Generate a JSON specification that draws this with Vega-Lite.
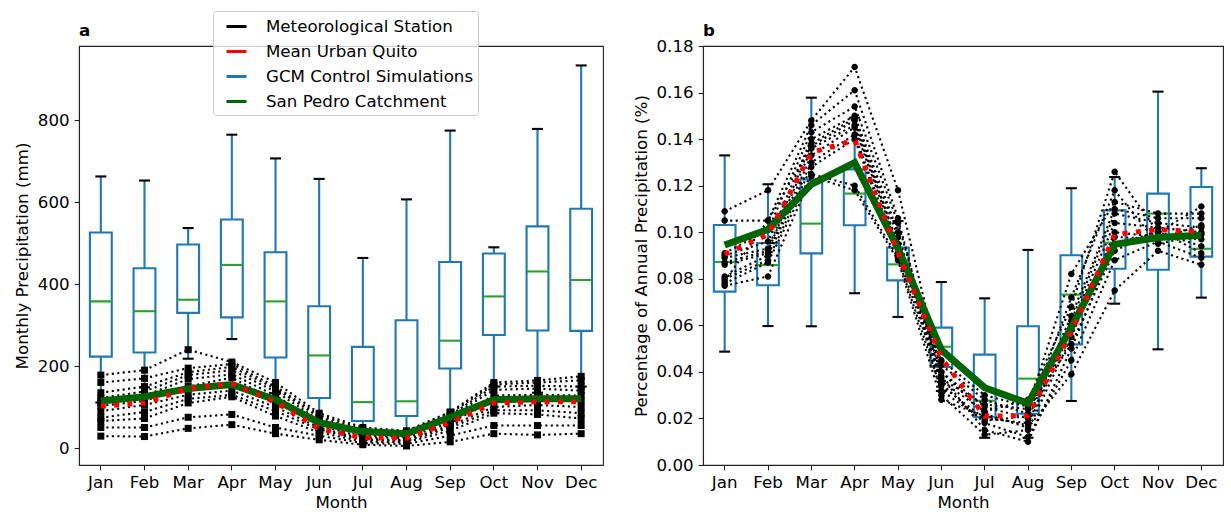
{
  "$schema": "https://vega.github.io/schema/vega-lite/v6.json",
  "padding": {"left": 13, "top": 9, "right": 6, "bottom": 0},
  "spacing": 28,
  "datasets": {
    "boxA": [
      {"month": "Jan", "lo": 111, "q1": 223, "med": 358, "q3": 526, "hi": 663},
      {"month": "Feb", "lo": 148, "q1": 233, "med": 334, "q3": 439, "hi": 653},
      {"month": "Mar", "lo": 218, "q1": 330, "med": 362, "q3": 497, "hi": 537},
      {"month": "Apr", "lo": 266, "q1": 319, "med": 447, "q3": 558, "hi": 765},
      {"month": "May", "lo": 134, "q1": 221, "med": 358, "q3": 478, "hi": 707},
      {"month": "Jun", "lo": 58, "q1": 122, "med": 226, "q3": 346, "hi": 657},
      {"month": "Jul", "lo": 45, "q1": 66, "med": 112, "q3": 247, "hi": 464},
      {"month": "Aug", "lo": 34, "q1": 78, "med": 114, "q3": 312, "hi": 607},
      {"month": "Sep", "lo": 66, "q1": 194, "med": 262, "q3": 454, "hi": 775},
      {"month": "Oct", "lo": 150, "q1": 276, "med": 370, "q3": 475, "hi": 490},
      {"month": "Nov", "lo": 135, "q1": 287, "med": 431, "q3": 541, "hi": 779},
      {"month": "Dec", "lo": 150, "q1": 286, "med": 410, "q3": 584, "hi": 934}
    ],
    "urbanA": [
      {"month": "Jan", "value": 102}, {"month": "Feb", "value": 110}, {"month": "Mar", "value": 145},
      {"month": "Apr", "value": 157}, {"month": "May", "value": 112}, {"month": "Jun", "value": 47},
      {"month": "Jul", "value": 25}, {"month": "Aug", "value": 24}, {"month": "Sep", "value": 62},
      {"month": "Oct", "value": 110}, {"month": "Nov", "value": 113}, {"month": "Dec", "value": 113}
    ],
    "catchA": [
      {"month": "Jan", "value": 115}, {"month": "Feb", "value": 125}, {"month": "Mar", "value": 145},
      {"month": "Apr", "value": 155}, {"month": "May", "value": 118}, {"month": "Jun", "value": 62},
      {"month": "Jul", "value": 40}, {"month": "Aug", "value": 35}, {"month": "Sep", "value": 75},
      {"month": "Oct", "value": 118}, {"month": "Nov", "value": 120}, {"month": "Dec", "value": 120}
    ],
    "stationsA": [
      {"station": "S1", "month": "Jan", "value": 178}, {"station": "S1", "month": "Feb", "value": 190}, {"station": "S1", "month": "Mar", "value": 240}, {"station": "S1", "month": "Apr", "value": 210}, {"station": "S1", "month": "May", "value": 160}, {"station": "S1", "month": "Jun", "value": 85}, {"station": "S1", "month": "Jul", "value": 50}, {"station": "S1", "month": "Aug", "value": 42}, {"station": "S1", "month": "Sep", "value": 88}, {"station": "S1", "month": "Oct", "value": 160}, {"station": "S1", "month": "Nov", "value": 165}, {"station": "S1", "month": "Dec", "value": 175},
      {"station": "S2", "month": "Jan", "value": 160}, {"station": "S2", "month": "Feb", "value": 170}, {"station": "S2", "month": "Mar", "value": 195}, {"station": "S2", "month": "Apr", "value": 205}, {"station": "S2", "month": "May", "value": 150}, {"station": "S2", "month": "Jun", "value": 80}, {"station": "S2", "month": "Jul", "value": 45}, {"station": "S2", "month": "Aug", "value": 40}, {"station": "S2", "month": "Sep", "value": 85}, {"station": "S2", "month": "Oct", "value": 155}, {"station": "S2", "month": "Nov", "value": 160}, {"station": "S2", "month": "Dec", "value": 165},
      {"station": "S3", "month": "Jan", "value": 135}, {"station": "S3", "month": "Feb", "value": 150}, {"station": "S3", "month": "Mar", "value": 185}, {"station": "S3", "month": "Apr", "value": 198}, {"station": "S3", "month": "May", "value": 145}, {"station": "S3", "month": "Jun", "value": 75}, {"station": "S3", "month": "Jul", "value": 40}, {"station": "S3", "month": "Aug", "value": 35}, {"station": "S3", "month": "Sep", "value": 80}, {"station": "S3", "month": "Oct", "value": 150}, {"station": "S3", "month": "Nov", "value": 152}, {"station": "S3", "month": "Dec", "value": 150},
      {"station": "S4", "month": "Jan", "value": 122}, {"station": "S4", "month": "Feb", "value": 138}, {"station": "S4", "month": "Mar", "value": 178}, {"station": "S4", "month": "Apr", "value": 190}, {"station": "S4", "month": "May", "value": 138}, {"station": "S4", "month": "Jun", "value": 68}, {"station": "S4", "month": "Jul", "value": 36}, {"station": "S4", "month": "Aug", "value": 32}, {"station": "S4", "month": "Sep", "value": 76}, {"station": "S4", "month": "Oct", "value": 142}, {"station": "S4", "month": "Nov", "value": 145}, {"station": "S4", "month": "Dec", "value": 140},
      {"station": "S5", "month": "Jan", "value": 112}, {"station": "S5", "month": "Feb", "value": 128}, {"station": "S5", "month": "Mar", "value": 168}, {"station": "S5", "month": "Apr", "value": 180}, {"station": "S5", "month": "May", "value": 128}, {"station": "S5", "month": "Jun", "value": 62}, {"station": "S5", "month": "Jul", "value": 30}, {"station": "S5", "month": "Aug", "value": 28}, {"station": "S5", "month": "Sep", "value": 70}, {"station": "S5", "month": "Oct", "value": 128}, {"station": "S5", "month": "Nov", "value": 130}, {"station": "S5", "month": "Dec", "value": 128},
      {"station": "S6", "month": "Jan", "value": 103}, {"station": "S6", "month": "Feb", "value": 115}, {"station": "S6", "month": "Mar", "value": 150}, {"station": "S6", "month": "Apr", "value": 172}, {"station": "S6", "month": "May", "value": 115}, {"station": "S6", "month": "Jun", "value": 56}, {"station": "S6", "month": "Jul", "value": 26}, {"station": "S6", "month": "Aug", "value": 25}, {"station": "S6", "month": "Sep", "value": 62}, {"station": "S6", "month": "Oct", "value": 115}, {"station": "S6", "month": "Nov", "value": 120}, {"station": "S6", "month": "Dec", "value": 115},
      {"station": "S7", "month": "Jan", "value": 90}, {"station": "S7", "month": "Feb", "value": 105}, {"station": "S7", "month": "Mar", "value": 130}, {"station": "S7", "month": "Apr", "value": 140}, {"station": "S7", "month": "May", "value": 100}, {"station": "S7", "month": "Jun", "value": 50}, {"station": "S7", "month": "Jul", "value": 22}, {"station": "S7", "month": "Aug", "value": 20}, {"station": "S7", "month": "Sep", "value": 55}, {"station": "S7", "month": "Oct", "value": 100}, {"station": "S7", "month": "Nov", "value": 105}, {"station": "S7", "month": "Dec", "value": 100},
      {"station": "S8", "month": "Jan", "value": 74}, {"station": "S8", "month": "Feb", "value": 88}, {"station": "S8", "month": "Mar", "value": 120}, {"station": "S8", "month": "Apr", "value": 130}, {"station": "S8", "month": "May", "value": 90}, {"station": "S8", "month": "Jun", "value": 45}, {"station": "S8", "month": "Jul", "value": 20}, {"station": "S8", "month": "Aug", "value": 17}, {"station": "S8", "month": "Sep", "value": 50}, {"station": "S8", "month": "Oct", "value": 92}, {"station": "S8", "month": "Nov", "value": 92}, {"station": "S8", "month": "Dec", "value": 85},
      {"station": "S9", "month": "Jan", "value": 66}, {"station": "S9", "month": "Feb", "value": 72}, {"station": "S9", "month": "Mar", "value": 110}, {"station": "S9", "month": "Apr", "value": 125}, {"station": "S9", "month": "May", "value": 78}, {"station": "S9", "month": "Jun", "value": 38}, {"station": "S9", "month": "Jul", "value": 16}, {"station": "S9", "month": "Aug", "value": 14}, {"station": "S9", "month": "Sep", "value": 42}, {"station": "S9", "month": "Oct", "value": 85}, {"station": "S9", "month": "Nov", "value": 82}, {"station": "S9", "month": "Dec", "value": 72},
      {"station": "S10", "month": "Jan", "value": 50}, {"station": "S10", "month": "Feb", "value": 50}, {"station": "S10", "month": "Mar", "value": 75}, {"station": "S10", "month": "Apr", "value": 82}, {"station": "S10", "month": "May", "value": 50}, {"station": "S10", "month": "Jun", "value": 30}, {"station": "S10", "month": "Jul", "value": 12}, {"station": "S10", "month": "Aug", "value": 10}, {"station": "S10", "month": "Sep", "value": 30}, {"station": "S10", "month": "Oct", "value": 55}, {"station": "S10", "month": "Nov", "value": 55}, {"station": "S10", "month": "Dec", "value": 55},
      {"station": "S11", "month": "Jan", "value": 29}, {"station": "S11", "month": "Feb", "value": 28}, {"station": "S11", "month": "Mar", "value": 48}, {"station": "S11", "month": "Apr", "value": 57}, {"station": "S11", "month": "May", "value": 35}, {"station": "S11", "month": "Jun", "value": 20}, {"station": "S11", "month": "Jul", "value": 8}, {"station": "S11", "month": "Aug", "value": 5}, {"station": "S11", "month": "Sep", "value": 15}, {"station": "S11", "month": "Oct", "value": 35}, {"station": "S11", "month": "Nov", "value": 32}, {"station": "S11", "month": "Dec", "value": 35}
    ],
    "boxB": [
      {"month": "Jan", "lo": 0.0487, "q1": 0.0745, "med": 0.0872, "q3": 0.1031, "hi": 0.1330},
      {"month": "Feb", "lo": 0.0597, "q1": 0.0772, "med": 0.0859, "q3": 0.0954, "hi": 0.1206},
      {"month": "Mar", "lo": 0.0596, "q1": 0.0909, "med": 0.1037, "q3": 0.1227, "hi": 0.1578},
      {"month": "Apr", "lo": 0.0738, "q1": 0.1030, "med": 0.1166, "q3": 0.1270, "hi": 0.1492},
      {"month": "May", "lo": 0.0636, "q1": 0.0793, "med": 0.0862, "q3": 0.0934, "hi": 0.1048},
      {"month": "Jun", "lo": 0.0318, "q1": 0.0421, "med": 0.0508, "q3": 0.0590, "hi": 0.0786},
      {"month": "Jul", "lo": 0.0117, "q1": 0.0206, "med": 0.0276, "q3": 0.0474, "hi": 0.0716},
      {"month": "Aug", "lo": 0.0117, "q1": 0.0220, "med": 0.0371, "q3": 0.0596, "hi": 0.0924},
      {"month": "Sep", "lo": 0.0275, "q1": 0.0518, "med": 0.0732, "q3": 0.0901, "hi": 0.1189},
      {"month": "Oct", "lo": 0.0693, "q1": 0.0843, "med": 0.0955, "q3": 0.1094, "hi": 0.1237},
      {"month": "Nov", "lo": 0.0497, "q1": 0.0839, "med": 0.1080, "q3": 0.1166, "hi": 0.1604},
      {"month": "Dec", "lo": 0.0719, "q1": 0.0895, "med": 0.0929, "q3": 0.1194, "hi": 0.1275}
    ],
    "urbanB": [
      {"month": "Jan", "value": 0.0905}, {"month": "Feb", "value": 0.0990}, {"month": "Mar", "value": 0.1342},
      {"month": "Apr", "value": 0.1396}, {"month": "May", "value": 0.0910}, {"month": "Jun", "value": 0.0460},
      {"month": "Jul", "value": 0.0210}, {"month": "Aug", "value": 0.0212}, {"month": "Sep", "value": 0.0570},
      {"month": "Oct", "value": 0.0990}, {"month": "Nov", "value": 0.1012}, {"month": "Dec", "value": 0.1002}
    ],
    "catchB": [
      {"month": "Jan", "value": 0.0945}, {"month": "Feb", "value": 0.1012}, {"month": "Mar", "value": 0.1206},
      {"month": "Apr", "value": 0.1299}, {"month": "May", "value": 0.0930}, {"month": "Jun", "value": 0.0495},
      {"month": "Jul", "value": 0.0332}, {"month": "Aug", "value": 0.0265}, {"month": "Sep", "value": 0.0590},
      {"month": "Oct", "value": 0.0948}, {"month": "Nov", "value": 0.0977}, {"month": "Dec", "value": 0.0987}
    ],
    "stationsB": [
      {"station": "S1", "month": "Jan", "value": 0.109}, {"station": "S1", "month": "Feb", "value": 0.118}, {"station": "S1", "month": "Mar", "value": 0.148}, {"station": "S1", "month": "Apr", "value": 0.171}, {"station": "S1", "month": "May", "value": 0.118}, {"station": "S1", "month": "Jun", "value": 0.040}, {"station": "S1", "month": "Jul", "value": 0.022}, {"station": "S1", "month": "Aug", "value": 0.016}, {"station": "S1", "month": "Sep", "value": 0.039}, {"station": "S1", "month": "Oct", "value": 0.075}, {"station": "S1", "month": "Nov", "value": 0.092}, {"station": "S1", "month": "Dec", "value": 0.086},
      {"station": "S2", "month": "Jan", "value": 0.105}, {"station": "S2", "month": "Feb", "value": 0.105}, {"station": "S2", "month": "Mar", "value": 0.146}, {"station": "S2", "month": "Apr", "value": 0.161}, {"station": "S2", "month": "May", "value": 0.106}, {"station": "S2", "month": "Jun", "value": 0.035}, {"station": "S2", "month": "Jul", "value": 0.018}, {"station": "S2", "month": "Aug", "value": 0.012}, {"station": "S2", "month": "Sep", "value": 0.045}, {"station": "S2", "month": "Oct", "value": 0.088}, {"station": "S2", "month": "Nov", "value": 0.096}, {"station": "S2", "month": "Dec", "value": 0.089},
      {"station": "S3", "month": "Jan", "value": 0.091}, {"station": "S3", "month": "Feb", "value": 0.101}, {"station": "S3", "month": "Mar", "value": 0.143}, {"station": "S3", "month": "Apr", "value": 0.154}, {"station": "S3", "month": "May", "value": 0.104}, {"station": "S3", "month": "Jun", "value": 0.038}, {"station": "S3", "month": "Jul", "value": 0.015}, {"station": "S3", "month": "Aug", "value": 0.010}, {"station": "S3", "month": "Sep", "value": 0.050}, {"station": "S3", "month": "Oct", "value": 0.095}, {"station": "S3", "month": "Nov", "value": 0.100}, {"station": "S3", "month": "Dec", "value": 0.094},
      {"station": "S4", "month": "Jan", "value": 0.090}, {"station": "S4", "month": "Feb", "value": 0.096}, {"station": "S4", "month": "Mar", "value": 0.140}, {"station": "S4", "month": "Apr", "value": 0.150}, {"station": "S4", "month": "May", "value": 0.100}, {"station": "S4", "month": "Jun", "value": 0.030}, {"station": "S4", "month": "Jul", "value": 0.013}, {"station": "S4", "month": "Aug", "value": 0.015}, {"station": "S4", "month": "Sep", "value": 0.055}, {"station": "S4", "month": "Oct", "value": 0.100}, {"station": "S4", "month": "Nov", "value": 0.098}, {"station": "S4", "month": "Dec", "value": 0.097},
      {"station": "S5", "month": "Jan", "value": 0.089}, {"station": "S5", "month": "Feb", "value": 0.093}, {"station": "S5", "month": "Mar", "value": 0.138}, {"station": "S5", "month": "Apr", "value": 0.149}, {"station": "S5", "month": "May", "value": 0.098}, {"station": "S5", "month": "Jun", "value": 0.034}, {"station": "S5", "month": "Jul", "value": 0.020}, {"station": "S5", "month": "Aug", "value": 0.018}, {"station": "S5", "month": "Sep", "value": 0.060}, {"station": "S5", "month": "Oct", "value": 0.104}, {"station": "S5", "month": "Nov", "value": 0.102}, {"station": "S5", "month": "Dec", "value": 0.100},
      {"station": "S6", "month": "Jan", "value": 0.087}, {"station": "S6", "month": "Feb", "value": 0.092}, {"station": "S6", "month": "Mar", "value": 0.136}, {"station": "S6", "month": "Apr", "value": 0.146}, {"station": "S6", "month": "May", "value": 0.095}, {"station": "S6", "month": "Jun", "value": 0.040}, {"station": "S6", "month": "Jul", "value": 0.025}, {"station": "S6", "month": "Aug", "value": 0.020}, {"station": "S6", "month": "Sep", "value": 0.062}, {"station": "S6", "month": "Oct", "value": 0.108}, {"station": "S6", "month": "Nov", "value": 0.104}, {"station": "S6", "month": "Dec", "value": 0.102},
      {"station": "S7", "month": "Jan", "value": 0.086}, {"station": "S7", "month": "Feb", "value": 0.091}, {"station": "S7", "month": "Mar", "value": 0.133}, {"station": "S7", "month": "Apr", "value": 0.145}, {"station": "S7", "month": "May", "value": 0.093}, {"station": "S7", "month": "Jun", "value": 0.043}, {"station": "S7", "month": "Jul", "value": 0.028}, {"station": "S7", "month": "Aug", "value": 0.022}, {"station": "S7", "month": "Sep", "value": 0.064}, {"station": "S7", "month": "Oct", "value": 0.110}, {"station": "S7", "month": "Nov", "value": 0.106}, {"station": "S7", "month": "Dec", "value": 0.106},
      {"station": "S8", "month": "Jan", "value": 0.081}, {"station": "S8", "month": "Feb", "value": 0.090}, {"station": "S8", "month": "Mar", "value": 0.130}, {"station": "S8", "month": "Apr", "value": 0.142}, {"station": "S8", "month": "May", "value": 0.091}, {"station": "S8", "month": "Jun", "value": 0.045}, {"station": "S8", "month": "Jul", "value": 0.030}, {"station": "S8", "month": "Aug", "value": 0.025}, {"station": "S8", "month": "Sep", "value": 0.082}, {"station": "S8", "month": "Oct", "value": 0.113}, {"station": "S8", "month": "Nov", "value": 0.108}, {"station": "S8", "month": "Dec", "value": 0.108},
      {"station": "S9", "month": "Jan", "value": 0.080}, {"station": "S9", "month": "Feb", "value": 0.088}, {"station": "S9", "month": "Mar", "value": 0.128}, {"station": "S9", "month": "Apr", "value": 0.140}, {"station": "S9", "month": "May", "value": 0.090}, {"station": "S9", "month": "Jun", "value": 0.036}, {"station": "S9", "month": "Jul", "value": 0.023}, {"station": "S9", "month": "Aug", "value": 0.028}, {"station": "S9", "month": "Sep", "value": 0.068}, {"station": "S9", "month": "Oct", "value": 0.126}, {"station": "S9", "month": "Nov", "value": 0.100}, {"station": "S9", "month": "Dec", "value": 0.111},
      {"station": "S10", "month": "Jan", "value": 0.078}, {"station": "S10", "month": "Feb", "value": 0.087}, {"station": "S10", "month": "Mar", "value": 0.125}, {"station": "S10", "month": "Apr", "value": 0.120}, {"station": "S10", "month": "May", "value": 0.089}, {"station": "S10", "month": "Jun", "value": 0.032}, {"station": "S10", "month": "Jul", "value": 0.019}, {"station": "S10", "month": "Aug", "value": 0.021}, {"station": "S10", "month": "Sep", "value": 0.072}, {"station": "S10", "month": "Oct", "value": 0.118}, {"station": "S10", "month": "Nov", "value": 0.095}, {"station": "S10", "month": "Dec", "value": 0.099},
      {"station": "S11", "month": "Jan", "value": 0.077}, {"station": "S11", "month": "Feb", "value": 0.081}, {"station": "S11", "month": "Mar", "value": 0.124}, {"station": "S11", "month": "Apr", "value": 0.118}, {"station": "S11", "month": "May", "value": 0.088}, {"station": "S11", "month": "Jun", "value": 0.028}, {"station": "S11", "month": "Jul", "value": 0.021}, {"station": "S11", "month": "Aug", "value": 0.017}, {"station": "S11", "month": "Sep", "value": 0.058}, {"station": "S11", "month": "Oct", "value": 0.098}, {"station": "S11", "month": "Nov", "value": 0.097}, {"station": "S11", "month": "Dec", "value": 0.103},
      {"station": "S12", "month": "Jan", "value": 0.079}, {"station": "S12", "month": "Feb", "value": 0.105}, {"station": "S12", "month": "Mar", "value": 0.137}, {"station": "S12", "month": "Apr", "value": 0.148}, {"station": "S12", "month": "May", "value": 0.094}, {"station": "S12", "month": "Jun", "value": 0.037}, {"station": "S12", "month": "Jul", "value": 0.026}, {"station": "S12", "month": "Aug", "value": 0.024}, {"station": "S12", "month": "Sep", "value": 0.052}, {"station": "S12", "month": "Oct", "value": 0.092}, {"station": "S12", "month": "Nov", "value": 0.101}, {"station": "S12", "month": "Dec", "value": 0.091}
    ]
  },
  "hconcat": [
    {
      "width": 524,
      "height": 419,
      "title": {"text": "a", "anchor": "start", "frame": "group", "fontSize": 16.67, "fontWeight": "bold", "offset": -29},
      "encoding": {
        "x": {"field": "month", "type": "ordinal", "sort": ["Jan","Feb","Mar","Apr","May","Jun","Jul","Aug","Sep","Oct","Nov","Dec"], "scale": {"type": "band", "paddingInner": 0, "paddingOuter": 0}, "title": "Month"}
      },
      "layer": [
        {
          "data": {"name": "boxA"},
          "mark": {"type": "rule", "color": "#1f77b4", "strokeWidth": 2.1},
          "encoding": {
            "y": {"field": "lo", "type": "quantitative", "scale": {"domain": [-41.5, 981.5], "nice": false, "zero": false}, "axis": {"values": [0, 200, 400, 600, 800]}, "title": "Monthly Precipitation (mm)"},
            "y2": {"field": "q1"}
          }
        },
        {
          "data": {"name": "boxA"},
          "mark": {"type": "rule", "color": "#1f77b4", "strokeWidth": 2.1},
          "encoding": {
            "y": {"field": "q3", "type": "quantitative", "scale": {"domain": [-41.5, 981.5], "nice": false, "zero": false}, "axis": {"values": [0, 200, 400, 600, 800]}, "title": "Monthly Precipitation (mm)"},
            "y2": {"field": "hi"}
          }
        },
        {
          "data": {"name": "boxA"},
          "mark": {"type": "bar", "fill": "transparent", "stroke": "#1f77b4", "strokeWidth": 2.1, "width": {"band": 0.5}},
          "encoding": {
            "y": {"field": "q1", "type": "quantitative", "scale": {"domain": [-41.5, 981.5], "nice": false, "zero": false}, "axis": {"values": [0, 200, 400, 600, 800]}, "title": "Monthly Precipitation (mm)"},
            "y2": {"field": "q3"}
          }
        },
        {
          "data": {"name": "boxA"},
          "mark": {"type": "tick", "color": "black", "size": 11, "thickness": 2.1, "opacity": 1},
          "encoding": {
            "y": {"field": "lo", "type": "quantitative", "scale": {"domain": [-41.5, 981.5], "nice": false, "zero": false}, "axis": {"values": [0, 200, 400, 600, 800]}, "title": "Monthly Precipitation (mm)"}
          }
        },
        {
          "data": {"name": "boxA"},
          "mark": {"type": "tick", "color": "black", "size": 11, "thickness": 2.1, "opacity": 1},
          "encoding": {
            "y": {"field": "hi", "type": "quantitative", "scale": {"domain": [-41.5, 981.5], "nice": false, "zero": false}, "axis": {"values": [0, 200, 400, 600, 800]}, "title": "Monthly Precipitation (mm)"}
          }
        },
        {
          "data": {"name": "boxA"},
          "mark": {"type": "tick", "color": "#2ca02c", "size": 22, "thickness": 2.1, "opacity": 1},
          "encoding": {
            "y": {"field": "med", "type": "quantitative", "scale": {"domain": [-41.5, 981.5], "nice": false, "zero": false}, "axis": {"values": [0, 200, 400, 600, 800]}, "title": "Monthly Precipitation (mm)"}
          }
        },
        {
          "data": {"name": "stationsA"},
          "mark": {"type": "line", "strokeWidth": 2.1, "strokeDash": [2.1, 3.4]},
          "encoding": {
            "y": {"field": "value", "type": "quantitative", "scale": {"domain": [-41.5, 981.5], "nice": false, "zero": false}, "axis": {"values": [0, 200, 400, 600, 800]}, "title": "Monthly Precipitation (mm)"},
            "detail": {"field": "station"},
            "stroke": {
              "datum": "Meteorological Station",
              "type": "nominal",
              "scale": {"domain": ["Meteorological Station", "Mean Urban Quito", "GCM Control Simulations", "San Pedro Catchment"], "range": ["black", "red", "#1f77b4", "#006400"]},
              "legend": {
                "title": null,
                "orient": "none",
                "legendX": 134,
                "legendY": -35,
                "padding": 4,
                "rowPadding": 4,
                "symbolOffset": 8,
                "labelOffset": 18,
                "fillColor": "rgba(255,255,255,0.8)",
                "strokeColor": "#cccccc",
                "cornerRadius": 3,
                "labelFont": "DejaVu Sans",
                "labelFontSize": 16.67,
                "labelColor": "black",
                "labelLimit": 400,
                "symbolSize": 400,
                "symbolStrokeWidth": 3
              }
            }
          }
        },
        {
          "data": {"name": "stationsA"},
          "mark": {"type": "tick", "color": "black", "size": 7, "thickness": 7, "opacity": 1},
          "encoding": {
            "y": {"field": "value", "type": "quantitative", "scale": {"domain": [-41.5, 981.5], "nice": false, "zero": false}, "axis": {"values": [0, 200, 400, 600, 800]}, "title": "Monthly Precipitation (mm)"}
          }
        },
        {
          "data": {"name": "catchA"},
          "mark": {"type": "line", "color": "#006400", "strokeWidth": 7},
          "encoding": {
            "y": {"field": "value", "type": "quantitative", "scale": {"domain": [-41.5, 981.5], "nice": false, "zero": false}, "axis": {"values": [0, 200, 400, 600, 800]}, "title": "Monthly Precipitation (mm)"}
          }
        },
        {
          "data": {"name": "urbanA"},
          "mark": {"type": "line", "color": "red", "strokeWidth": 5, "strokeDash": [5, 8.3]},
          "encoding": {
            "y": {"field": "value", "type": "quantitative", "scale": {"domain": [-41.5, 981.5], "nice": false, "zero": false}, "axis": {"values": [0, 200, 400, 600, 800]}, "title": "Monthly Precipitation (mm)"}
          }
        }
      ]
    },
    {
      "width": 520,
      "height": 419,
      "title": {"text": "b", "anchor": "start", "frame": "group", "fontSize": 16.67, "fontWeight": "bold", "offset": -2},
      "encoding": {
        "x": {"field": "month", "type": "ordinal", "sort": ["Jan","Feb","Mar","Apr","May","Jun","Jul","Aug","Sep","Oct","Nov","Dec"], "scale": {"type": "band", "paddingInner": 0, "paddingOuter": 0}, "title": "Month"}
      },
      "layer": [
        {
          "data": {"name": "boxB"},
          "mark": {"type": "rule", "color": "#1f77b4", "strokeWidth": 2.1},
          "encoding": {
            "y": {"field": "lo", "type": "quantitative", "scale": {"domain": [0, 0.18], "nice": false, "zero": false}, "axis": {"values": [0, 0.02, 0.04, 0.06, 0.08, 0.1, 0.12, 0.14, 0.16, 0.18], "format": ".2f"}, "title": "Percentage of Annual Precipitation (%)"},
            "y2": {"field": "q1"}
          }
        },
        {
          "data": {"name": "boxB"},
          "mark": {"type": "rule", "color": "#1f77b4", "strokeWidth": 2.1},
          "encoding": {
            "y": {"field": "q3", "type": "quantitative", "scale": {"domain": [0, 0.18], "nice": false, "zero": false}, "axis": {"values": [0, 0.02, 0.04, 0.06, 0.08, 0.1, 0.12, 0.14, 0.16, 0.18], "format": ".2f"}, "title": "Percentage of Annual Precipitation (%)"},
            "y2": {"field": "hi"}
          }
        },
        {
          "data": {"name": "boxB"},
          "mark": {"type": "bar", "fill": "transparent", "stroke": "#1f77b4", "strokeWidth": 2.1, "width": {"band": 0.5}},
          "encoding": {
            "y": {"field": "q1", "type": "quantitative", "scale": {"domain": [0, 0.18], "nice": false, "zero": false}, "axis": {"values": [0, 0.02, 0.04, 0.06, 0.08, 0.1, 0.12, 0.14, 0.16, 0.18], "format": ".2f"}, "title": "Percentage of Annual Precipitation (%)"},
            "y2": {"field": "q3"}
          }
        },
        {
          "data": {"name": "boxB"},
          "mark": {"type": "tick", "color": "black", "size": 11, "thickness": 2.1, "opacity": 1},
          "encoding": {
            "y": {"field": "lo", "type": "quantitative", "scale": {"domain": [0, 0.18], "nice": false, "zero": false}, "axis": {"values": [0, 0.02, 0.04, 0.06, 0.08, 0.1, 0.12, 0.14, 0.16, 0.18], "format": ".2f"}, "title": "Percentage of Annual Precipitation (%)"}
          }
        },
        {
          "data": {"name": "boxB"},
          "mark": {"type": "tick", "color": "black", "size": 11, "thickness": 2.1, "opacity": 1},
          "encoding": {
            "y": {"field": "hi", "type": "quantitative", "scale": {"domain": [0, 0.18], "nice": false, "zero": false}, "axis": {"values": [0, 0.02, 0.04, 0.06, 0.08, 0.1, 0.12, 0.14, 0.16, 0.18], "format": ".2f"}, "title": "Percentage of Annual Precipitation (%)"}
          }
        },
        {
          "data": {"name": "boxB"},
          "mark": {"type": "tick", "color": "#2ca02c", "size": 22, "thickness": 2.1, "opacity": 1},
          "encoding": {
            "y": {"field": "med", "type": "quantitative", "scale": {"domain": [0, 0.18], "nice": false, "zero": false}, "axis": {"values": [0, 0.02, 0.04, 0.06, 0.08, 0.1, 0.12, 0.14, 0.16, 0.18], "format": ".2f"}, "title": "Percentage of Annual Precipitation (%)"}
          }
        },
        {
          "data": {"name": "stationsB"},
          "mark": {"type": "line", "color": "black", "strokeWidth": 2.1, "strokeDash": [2.1, 3.4]},
          "encoding": {
            "y": {"field": "value", "type": "quantitative", "scale": {"domain": [0, 0.18], "nice": false, "zero": false}, "axis": {"values": [0, 0.02, 0.04, 0.06, 0.08, 0.1, 0.12, 0.14, 0.16, 0.18], "format": ".2f"}, "title": "Percentage of Annual Precipitation (%)"},
            "detail": {"field": "station"}
          }
        },
        {
          "data": {"name": "stationsB"},
          "mark": {"type": "tick", "color": "black", "size": 6.5, "thickness": 6.5, "cornerRadius": 3.25, "opacity": 1},
          "encoding": {
            "y": {"field": "value", "type": "quantitative", "scale": {"domain": [0, 0.18], "nice": false, "zero": false}, "axis": {"values": [0, 0.02, 0.04, 0.06, 0.08, 0.1, 0.12, 0.14, 0.16, 0.18], "format": ".2f"}, "title": "Percentage of Annual Precipitation (%)"}
          }
        },
        {
          "data": {"name": "catchB"},
          "mark": {"type": "line", "color": "#006400", "strokeWidth": 7},
          "encoding": {
            "y": {"field": "value", "type": "quantitative", "scale": {"domain": [0, 0.18], "nice": false, "zero": false}, "axis": {"values": [0, 0.02, 0.04, 0.06, 0.08, 0.1, 0.12, 0.14, 0.16, 0.18], "format": ".2f"}, "title": "Percentage of Annual Precipitation (%)"}
          }
        },
        {
          "data": {"name": "urbanB"},
          "mark": {"type": "line", "color": "red", "strokeWidth": 5, "strokeDash": [5, 8.3]},
          "encoding": {
            "y": {"field": "value", "type": "quantitative", "scale": {"domain": [0, 0.18], "nice": false, "zero": false}, "axis": {"values": [0, 0.02, 0.04, 0.06, 0.08, 0.1, 0.12, 0.14, 0.16, 0.18], "format": ".2f"}, "title": "Percentage of Annual Precipitation (%)"}
          }
        }
      ]
    }
  ],
  "resolve": {"scale": {"stroke": "independent"}, "legend": {"stroke": "independent"}},
  "config": {
    "font": "DejaVu Sans",
    "view": {"stroke": "#222222", "strokeWidth": 1.1},
    "title": {"font": "DejaVu Sans", "color": "black"},
    "axis": {
      "grid": false,
      "domainColor": "#222222",
      "domainWidth": 1.1,
      "tickColor": "#222222",
      "tickWidth": 1.1,
      "tickSize": 4.9,
      "labelFont": "DejaVu Sans",
      "labelFontSize": 16.67,
      "labelColor": "black",
      "labelPadding": 5,
      "titleFont": "DejaVu Sans",
      "titleFontSize": 16.67,
      "titleFontWeight": "normal",
      "titleColor": "black",
      "titlePadding": 6
    },
    "axisX": {"labelAngle": 0, "titlePadding": 3}
  }
}
